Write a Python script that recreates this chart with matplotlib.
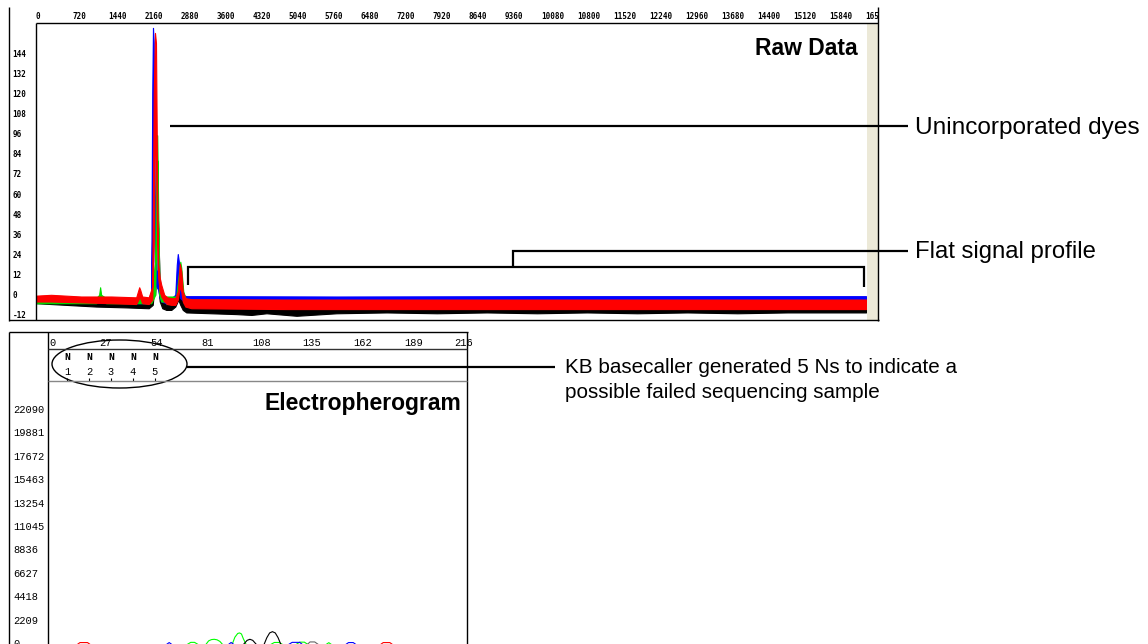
import numpy as np
import matplotlib
matplotlib.use('Agg')
import matplotlib.pyplot as plt
from matplotlib.patches import Ellipse, Rectangle

nan = np.nan
W, H = 1148, 644

# ---- raw data panel: scans vs signal, each dye drawn as a noise ribbon (low/high envelope)
raw_xticks = list(range(0, 16561, 720))
raw_yticks = [144, 132, 120, 108, 96, 84, 72, 60, 48, 36, 24, 12, 0, -12]

black_scan = [0, 600, 1200, 1800, 2250, 2330, 2380, 2410, 2440, 2470, 2520, 2600, 2700, 2780, 2840, 2880, 2930, 3000,
              3500, 4000, 4300, 4600, 5200, 6000, 7000, 8000, 9000, 10000, 11000, 12000, 13000, 14000, 15000, 16567]
black_low = [-5, -6, -7, -7.5, -8, -6, 10, 25, 5, -4, -8, -9, -9, -7, -3, -6, -9, -10.5,
             -11, -11.5, -12, -11, -12.5, -11, -10.5, -11, -10.5, -11, -10.5, -11, -10.5, -11, -10.5, -10.5]
black_high = [-3, -3.5, -4, -4.5, -5, 0, 20, 64, 40, 5, -3, -6, -6, -3, 7, 2, -5, -7,
              -7, -7.5, -7, -7.5, -7, -7, -7, -7.5, -7, -7.5, -7, -7, -7.5, -7, -7, -7]

gray_scan = [2380, 2420, 2440, 2460, 2500]
gray_low = [0, 10, 15, 5, 0]
gray_high = [0, 30, 40, 15, 0]

blue_scan = [0, 1000, 2000, 2250, 2300, 2320, 2335, 2350, 2370, 2400, 2440, 2470, 2500, 2600, 2700, 2780, 2810, 2830, 2850, 2880, 2920, 3000, 3200, 6000, 10000, 16567]
blue_low = [-4, -4.5, -5, -5, -3, 40, 100, 80, 20, 5, 3, -2, -4, -5, -5, -4, 5, 15, 5, -2, -3, -4, -4.5, -4.5, -4, -4]
blue_high = [-1, -1.5, -2, -2, 2, 120, 159, 150, 60, 15, 13, 5, 0, -2, -2, 0, 18, 24.3, 20, 5, 0, -0.8, -0.8, -1, -0.8, -0.8]

green_scan = [0, 1200, 1260, 1280, 1300, 1400, 2300, 2380, 2400, 2420, 2440, 2460, 2500, 2800, 2860, 2880, 2900, 2940, 3000, 16567]
green_low = [-5, -5, -4, 0, -4, -5, -5, 0, 40, 80, 30, 0, -4, -4, 5, 15, 10, -2, -5, -5]
green_high = [-2, -2, 0, 4.5, 0, -2, -2, 20, 95, 95, 50, 10, -1, -1, 15, 19.7, 16, 2, -3.5, -3.5]

red_scan = [0, 300, 900, 1500, 2000, 2060, 2080, 2120, 2250, 2320, 2350, 2375, 2395, 2420, 2440, 2470, 2500, 2560, 2620, 2700, 2780, 2830, 2870, 2900, 2930, 2980, 3100,
            5000, 8000, 11000, 14000, 16567]
red_low = [-4, -4, -4.5, -5, -5.5, -2, -2, -5, -5.5, -3, 30, 100, 80, 30, 10, 2, -1, -4, -5.5, -6, -6, -3, 5, 2, -4, -7, -8,
           -8.5, -8.5, -8.5, -8.5, -8.5]
red_high = [-0.5, 0, -1, -1, -1.5, 4.5, 3, -1, -1.5, 5, 120, 156, 150, 60, 18, 10, 6, 0, -1.5, -2, -2, 2, 18.5, 14, 2, -2, -2.6,
            -2.8, -2.8, -2.8, -2.8, -2.8]

# ---- electropherogram panel: base position vs signal
ep_xticks = [0, 27, 54, 81, 108, 135, 162, 189, 216]
ep_yticks = [0, 2209, 4418, 6627, 8836, 11045, 13254, 15463, 17672, 19881, 22090]
call_pos = [9.6, 21.3, 33.0, 44.7, 56.4]
call_base = ['N', 'N', 'N', 'N', 'N']

ep_green_pos = [73.5, 75.5, 77.5, 79.5, nan, 83.5, 85, 86.5, 88, 89.5, 91, 92.5, nan, 97.5, 99, 100.5, 101.5, 102.5, 103.5, 105, nan, 118, 120, 122.5, 124.5, nan, 131.5, 133.5, 136, 138, nan, 147.5, 149, 150.5]
ep_green_val = [-150, 60, 60, -150, nan, -150, 200, 320, 350, 300, 150, -150, nan, -150, 550, 900, 950, 850, 400, -150, nan, -150, 50, 50, -150, nan, -150, 80, 80, -150, nan, -150, 30, -150]
ep_black_pos = [103.5, 105.5, 107, 108.5, 110.5, nan, 114.5, 116, 117.5, 119, 120.5, 122, 123.5]
ep_black_val = [-150, 250, 350, 250, -150, nan, -150, 500, 950, 1070, 950, 500, -150]
ep_gray_pos = [137.5, 139, 141.5, 143.5]
ep_gray_val = [-150, 100, 100, -150]
ep_blue_pos = [62.5, 64, 65.5, nan, 95.5, 97, 98.5, nan, 127.5, 129.5, 133.5, 135, nan, 158, 159.5, 162, 163.5]
ep_blue_val = [-150, 40, -150, nan, -150, 50, -150, nan, -150, 60, 60, -150, nan, -150, 40, 40, -150]
ep_red_pos = [15, 16.5, 20.5, 22, nan, 176.5, 178, 181.5, 183]
ep_red_val = [-150, 40, 40, -150, nan, -150, 40, 40, -150]

SANS = 'Liberation Sans'
MONO = 'Liberation Mono'

fig = plt.figure(figsize=(W / 100, H / 100), dpi=100)


def px_axes(x0, y0, x1, y1):
    return fig.add_axes([x0 / W, 1 - y1 / H, (x1 - x0) / W, (y1 - y0) / H])


# raw data axes
ax = px_axes(36, 23, 867, 320)
ax.set_xlim(0, 16587)
ax.set_ylim(-15.0, 161.9)
for sp in ax.spines.values():
    sp.set_visible(False)
for scan, lo, hi, col in [(black_scan, black_low, black_high, 'black'),
                          (gray_scan, gray_low, gray_high, '#808080'),
                          (blue_scan, blue_low, blue_high, '#0000ff'),
                          (green_scan, green_low, green_high, '#00e000'),
                          (red_scan, red_low, red_high, '#ff0000')]:
    ax.fill_between(scan, lo, hi, color=col, lw=0.8)
ax.xaxis.tick_top()
ax.set_xticks(raw_xticks)
ax.set_xticklabels([str(t) for t in raw_xticks], ha='left', fontsize=5.5,
                   fontfamily='DejaVu Sans Mono', fontweight='bold')
ax.set_yticks(raw_yticks)
ax.set_yticklabels([str(t) for t in raw_yticks], ha='left', fontsize=5.5,
                   fontfamily='DejaVu Sans Mono', fontweight='bold')
ax.tick_params(axis='x', length=0, pad=1.2)
ax.tick_params(axis='y', length=0, pad=16.8)

# electropherogram trace axes (runs past the bottom of the image)
ep = px_axes(48, 381, 467, 660)
ep.set_xlim(-0.53, 222.6)
ep.set_ylim(-1605, 24733)
for sp in ep.spines.values():
    sp.set_visible(False)
ep.plot(ep_green_pos, ep_green_val, color='#00ff00', lw=0.8)
ep.plot(ep_black_pos, ep_black_val, color='black', lw=0.8)
ep.plot(ep_gray_pos, ep_gray_val, color='#666666', lw=0.8)
ep.plot(ep_blue_pos, ep_blue_val, color='#0000ff', lw=0.8)
ep.plot(ep_red_pos, ep_red_val, color='#ff0000', lw=0.8)
ep.set_xticks([])
ep.set_yticks(ep_yticks)
ep.set_yticklabels([str(t) for t in ep_yticks], ha='left', fontsize=7.5, fontfamily=MONO)
ep.tick_params(axis='y', length=0, pad=25.2)

# base-call row with the scale above it
calls = px_axes(48, 349, 467, 381)
calls.set_xlim(ep.get_xlim())
calls.set_ylim(32, 0)
for sp in calls.spines.values():
    sp.set_visible(False)
calls.xaxis.tick_top()
calls.set_xticks(ep_xticks)
calls.set_xticklabels([str(t) for t in ep_xticks], ha='left', fontsize=7.5, fontfamily=MONO)
calls.tick_params(axis='x', length=0, pad=1)
calls.set_yticks([])
for i, (p, b) in enumerate(zip(call_pos, call_base)):
    calls.text(p, 8, b, ha='center', va='center', fontsize=7, fontfamily=MONO, fontweight='bold')
    calls.text(p, 23, str(i + 1), ha='center', va='center', fontsize=7.5, fontfamily=MONO)
calls.vlines(call_pos, 29, 32, color='black', lw=0.8)

# overlay in pixel coordinates: frames and callouts
ov = fig.add_axes([0, 0, 1, 1])
ov.set_xlim(0, W)
ov.set_ylim(H, 0)
ov.axis('off')


def seg(xs, ys, lw=1.0, color='black'):
    ov.plot(xs, ys, color=color, lw=lw, solid_capstyle='butt', solid_joinstyle='miter')


ov.add_patch(Rectangle((867, 23.5), 10.5, 296, color='#ece9d8', lw=0))
ov.add_patch(Rectangle((878.5, 5), 30, 16, color='white', lw=0))
seg([9.3, 9.3], [7, 320.5])
seg([878, 878], [7, 320.5])
seg([9, 878.5], [320, 320])
seg([35.7, 35.7], [23, 320])
seg([35.7, 878], [23.3, 23.3])

seg([9.3, 9.3], [332, 644])
seg([48, 48], [332, 644])
seg([9, 467.5], [332.3, 332.3])
seg([467, 467], [332, 644])
seg([48, 467], [349.3, 349.3], color='#333333')
seg([48, 467], [381, 381], color='#888888')

ov.text(858, 55, 'Raw Data', ha='right', va='baseline', fontsize=16.5, fontweight='bold', fontfamily=SANS)
ov.text(461, 410, 'Electropherogram', ha='right', va='baseline', fontsize=16.5, fontweight='bold', fontfamily=SANS)

seg([170, 908], [126, 126], lw=1.6)
ov.text(915, 133.5, 'Unincorporated dyes', va='baseline', fontsize=17.6, fontfamily=SANS)

seg([188, 188, 864, 864], [285, 267, 267, 287], lw=1.6)
seg([513, 513, 908], [267, 250.5, 250.5], lw=1.6)
ov.text(915, 257.5, 'Flat signal profile', va='baseline', fontsize=17.2, fontfamily=SANS)

ov.add_patch(Ellipse((119.5, 364), 135, 48, fill=False, ec='black', lw=1.0))
seg([187, 555], [367, 367], lw=1.6)
ov.text(565, 373, 'KB basecaller generated 5 Ns to indicate a', va='baseline', fontsize=14.9, fontfamily=SANS)
ov.text(565, 398, 'possible failed sequencing sample', va='baseline', fontsize=14.9, fontfamily=SANS)

fig.savefig('out.png', dpi=100)
